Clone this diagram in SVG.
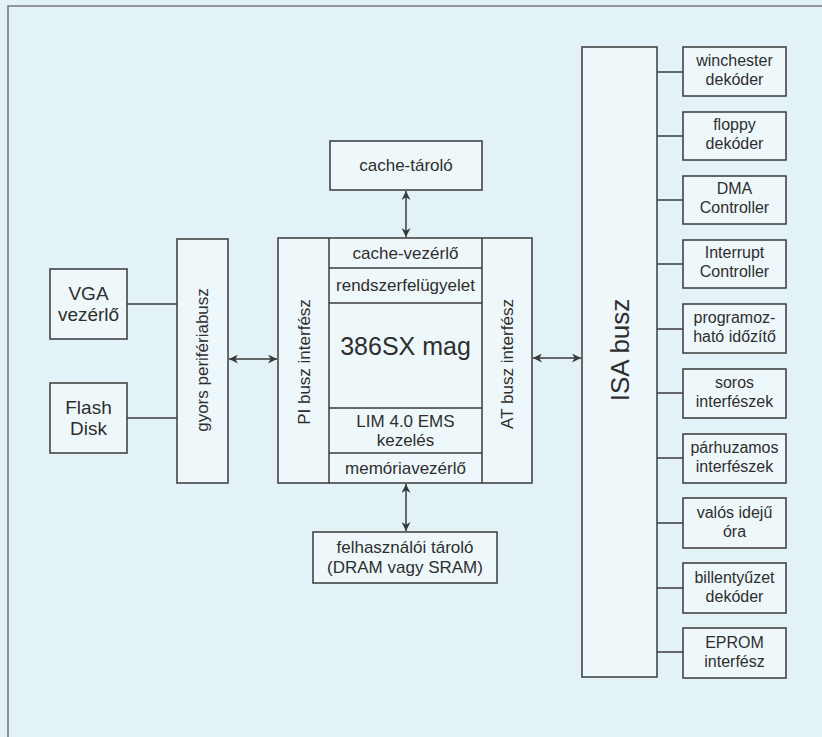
<svg xmlns="http://www.w3.org/2000/svg" width="822" height="737" viewBox="0 0 822 737">
<defs>
<style>
.bx{fill:#eef8fb;stroke:#3a3a3a;stroke-width:1.5}
.ln{fill:none;stroke:#3a3a3a;stroke-width:1.5}
.t{font-family:"Liberation Sans",Arial,Helvetica,sans-serif;font-size:16px;fill:#2e2e2e;text-anchor:middle}
</style>
<marker id="ah" viewBox="0 0 10 10" refX="10" refY="5" markerWidth="11" markerHeight="9" markerUnits="userSpaceOnUse" orient="auto-start-reverse">
<path d="M0,0 L10,5 L0,10 L3,5 Z" fill="#3a3a3a"/>
</marker>
</defs>
<rect x="0" y="0" width="822" height="737" fill="#e3f2f7"/>
<path d="M8,737 V6 H822" fill="none" stroke="#7a7a7a" stroke-width="1.6"/>

<g id="connectors">
<line class="ln" x1="127" y1="304" x2="177" y2="304"/>
<line class="ln" x1="127" y1="418" x2="177" y2="418"/>
<line class="ln" x1="229" y1="359" x2="277" y2="359" marker-start="url(#ah)" marker-end="url(#ah)"/>
<line class="ln" x1="533" y1="358" x2="581" y2="358" marker-start="url(#ah)" marker-end="url(#ah)"/>
<line class="ln" x1="406" y1="191" x2="406" y2="237" marker-start="url(#ah)" marker-end="url(#ah)"/>
<line class="ln" x1="406" y1="484" x2="406" y2="531" marker-start="url(#ah)" marker-end="url(#ah)"/>
<line class="ln" x1="657" y1="72" x2="683" y2="72"/>
<line class="ln" x1="657" y1="136" x2="683" y2="136"/>
<line class="ln" x1="657" y1="200" x2="683" y2="200"/>
<line class="ln" x1="657" y1="264" x2="683" y2="264"/>
<line class="ln" x1="657" y1="329" x2="683" y2="329"/>
<line class="ln" x1="657" y1="393" x2="683" y2="393"/>
<line class="ln" x1="657" y1="458" x2="683" y2="458"/>
<line class="ln" x1="657" y1="523" x2="683" y2="523"/>
<line class="ln" x1="657" y1="588" x2="683" y2="588"/>
<line class="ln" x1="657" y1="652" x2="683" y2="652"/>
</g>

<g id="vga">
<rect class="bx" x="50" y="269" width="77" height="70"/>
<text class="t" x="88.5" y="300" style="font-size:19px">VGA</text>
<text class="t" x="88.5" y="321" style="font-size:19px">vezérlő</text>
</g>
<g id="flash">
<rect class="bx" x="50" y="383" width="77" height="70"/>
<text class="t" x="88.5" y="414" style="font-size:19px">Flash</text>
<text class="t" x="88.5" y="435" style="font-size:19px">Disk</text>
</g>
<g id="gyors">
<rect class="bx" x="177" y="239" width="51" height="244"/>
<text class="t" transform="translate(208,360) rotate(-90)" style="font-size:17px">gyors perifériabusz</text>
</g>

<g id="cache-tarolo">
<rect class="bx" x="330" y="141" width="152" height="49"/>
<text class="t" x="406" y="171" style="font-size:17px">cache-tároló</text>
</g>

<g id="cpu">
<rect class="bx" x="278" y="238" width="254" height="245"/>
<line class="ln" x1="329" y1="238" x2="329" y2="483"/>
<line class="ln" x1="482" y1="238" x2="482" y2="483"/>
<line class="ln" x1="329" y1="268" x2="482" y2="268"/>
<line class="ln" x1="329" y1="303" x2="482" y2="303"/>
<line class="ln" x1="329" y1="408" x2="482" y2="408"/>
<line class="ln" x1="329" y1="453" x2="482" y2="453"/>
<text class="t" transform="translate(310,362) rotate(-90)" style="font-size:17px">PI busz interfész</text>
<text class="t" transform="translate(513,364) rotate(-90)" style="font-size:17px">AT busz interfész</text>
<text class="t" x="405.5" y="259" style="font-size:17px">cache-vezérlő</text>
<text class="t" x="405.5" y="291" style="font-size:17px">rendszerfelügyelet</text>
<text class="t" x="405.5" y="355" style="font-size:25px">386SX mag</text>
<text class="t" x="405.5" y="427" style="font-size:17px">LIM 4.0 EMS</text>
<text class="t" x="405.5" y="446" style="font-size:17px">kezelés</text>
<text class="t" x="405.5" y="474" style="font-size:17px">memóriavezérlő</text>
</g>

<g id="felhasznaloi">
<rect class="bx" x="313" y="532" width="184" height="51"/>
<text class="t" x="405" y="553" style="font-size:17px">felhasználói tároló</text>
<text class="t" x="405" y="573" style="font-size:17px">(DRAM vagy SRAM)</text>
</g>

<g id="isa">
<rect class="bx" x="582" y="47" width="75" height="630"/>
<text class="t" transform="translate(629,350) rotate(-90)" style="font-size:26px">ISA busz</text>
</g>

<g id="winchester">
<rect class="bx" x="683" y="47" width="103" height="49"/>
<text class="t" x="734.5" y="66">winchester</text>
<text class="t" x="734.5" y="85">dekóder</text>
</g>
<g id="floppy">
<rect class="bx" x="683" y="112" width="103" height="48"/>
<text class="t" x="734.5" y="130">floppy</text>
<text class="t" x="734.5" y="149">dekóder</text>
</g>
<g id="dma">
<rect class="bx" x="683" y="176" width="103" height="48"/>
<text class="t" x="734.5" y="194">DMA</text>
<text class="t" x="734.5" y="213">Controller</text>
</g>
<g id="interrupt">
<rect class="bx" x="683" y="240" width="103" height="48"/>
<text class="t" x="734.5" y="258">Interrupt</text>
<text class="t" x="734.5" y="277">Controller</text>
</g>
<g id="programozhato">
<rect class="bx" x="683" y="304" width="103" height="49"/>
<text class="t" x="734.5" y="323">programoz-</text>
<text class="t" x="734.5" y="342">ható időzítő</text>
</g>
<g id="soros">
<rect class="bx" x="683" y="369" width="103" height="49"/>
<text class="t" x="734.5" y="388">soros</text>
<text class="t" x="734.5" y="407">interfészek</text>
</g>
<g id="parhuzamos">
<rect class="bx" x="683" y="434" width="103" height="49"/>
<text class="t" x="734.5" y="453">párhuzamos</text>
<text class="t" x="734.5" y="472">interfészek</text>
</g>
<g id="valos">
<rect class="bx" x="683" y="498" width="103" height="50"/>
<text class="t" x="734.5" y="518">valós idejű</text>
<text class="t" x="734.5" y="537">óra</text>
</g>
<g id="billentyuzet">
<rect class="bx" x="683" y="563" width="103" height="50"/>
<text class="t" x="734.5" y="583">billentyűzet</text>
<text class="t" x="734.5" y="602">dekóder</text>
</g>
<g id="eprom">
<rect class="bx" x="683" y="628" width="103" height="50"/>
<text class="t" x="734.5" y="648">EPROM</text>
<text class="t" x="734.5" y="667">interfész</text>
</g>
</svg>
